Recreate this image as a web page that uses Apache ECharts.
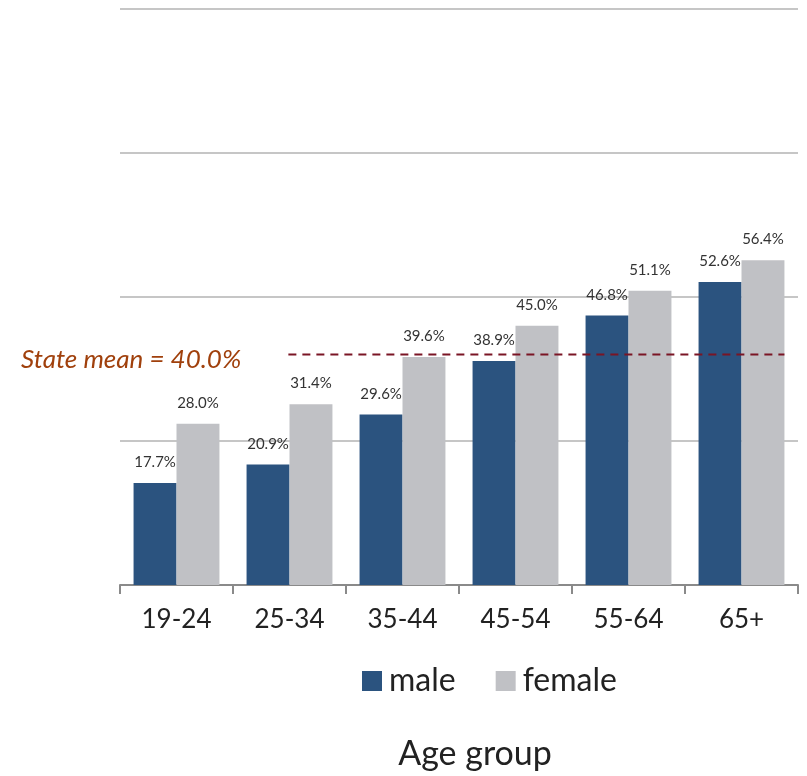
<!DOCTYPE html>
<html>
<head>
<meta charset="utf-8">
<script src="https://cdn.jsdelivr.net/npm/echarts@6/dist/echarts.min.js"></script>
<style>
  html, body { margin: 0; padding: 0; background: #fff; }
  #chart { width: 807px; height: 776px; }
</style>
</head>
<body>
<div id="chart"></div>
<script>
// Age groups along the x axis
const ageGroups = ['19-24', '25-34', '35-44', '45-54', '55-64', '65+'];
// Share (%) by sex in each age group
const maleValues = [17.7, 20.9, 29.6, 38.9, 46.8, 52.6];
const femaleValues = [28.0, 31.4, 39.6, 45.0, 51.1, 56.4];
// Statewide mean (%)
const stateMean = 40.0;
const seriesNames = ['male', 'female'];

const FONT = 'Lato, "Open Sans", sans-serif';
const chart = echarts.init(document.getElementById('chart'), null, { renderer: 'canvas' });

const valueLabel = {
  show: true,
  position: 'top',
  distance: 13,
  color: '#333',
  fontFamily: FONT,
  fontSize: 15,
  formatter: p => p.value.toFixed(1) + '%'
};

chart.setOption({
  animation: false,
  backgroundColor: '#fff',
  textStyle: { fontFamily: FONT },
  grid: { left: 120, right: 9, top: 9, bottom: 191, containLabel: false },
  title: [{
    text: 'State mean = ' + stateMean.toFixed(1) + '%',
    left: 16, top: 342,
    textStyle: { color: '#a0400c', fontStyle: 'italic', fontWeight: 'normal', fontSize: 26, fontFamily: FONT }
  }, {
    text: 'Age group',
    left: 470, top: 732, textAlign: 'center',
    textStyle: { color: '#222', fontWeight: 'normal', fontSize: 34, fontFamily: FONT }
  }],
  legend: {
    data: seriesNames,
    left: 357, top: 660,
    itemWidth: 20, itemHeight: 20, itemGap: 40,
    icon: 'rect',
    textStyle: { color: '#222', fontSize: 32, fontFamily: FONT, padding: [0, 0, 0, 2] }
  },
  xAxis: [{
    type: 'category',
    data: ageGroups,
    axisLine: { lineStyle: { color: '#8a8a8a', width: 2 } },
    axisTick: { show: true, length: 9, lineStyle: { color: '#8a8a8a', width: 2 } },
    axisLabel: { color: '#222', fontSize: 26, fontFamily: FONT, margin: 22 },
    splitLine: { show: false }
  }, {
    // hidden linear axis spanning the same categories, used for the mean line
    type: 'value', min: 0, max: ageGroups.length, show: false
  }],
  yAxis: {
    type: 'value', min: 0, max: 100, interval: 25,
    axisLabel: { show: false },
    axisLine: { show: false },
    axisTick: { show: false },
    splitLine: { lineStyle: { color: '#c6c6c6', width: 2 } }
  },
  series: [{
    name: 'male', type: 'bar', data: maleValues,
    barWidth: '38%', barGap: '0%',
    itemStyle: { color: '#2b537f' },
    label: valueLabel
  }, {
    name: 'female', type: 'bar', data: femaleValues,
    barWidth: '38%',
    itemStyle: { color: '#c0c1c5' },
    label: valueLabel
  }, {
    name: 'State mean', type: 'line', xAxisIndex: 1,
    data: [[1.49, stateMean], [5.88, stateMean]],
    symbol: 'none', silent: true,
    lineStyle: { color: '#7a1525', width: 2, type: [8, 6] },
    z: 5
  }]
});
</script>
</body>
</html>
